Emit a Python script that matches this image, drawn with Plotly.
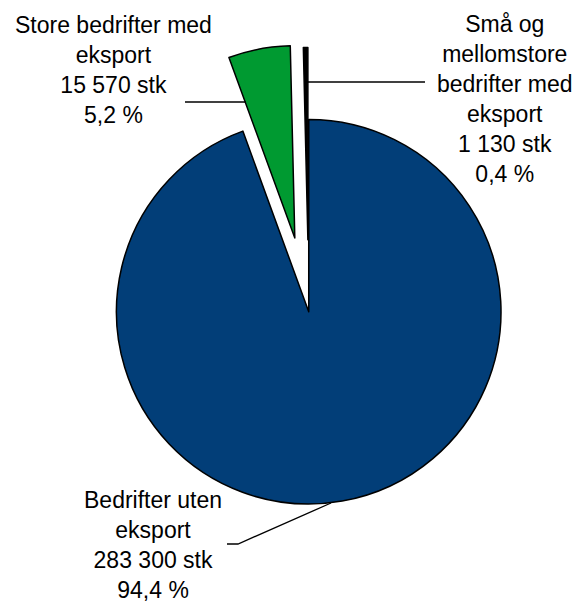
import plotly.graph_objects as go

# Norwegian enterprises by export status
labels = ["Bedrifter uten<br>eksport", "Store bedrifter med<br>eksport",
          "Små og<br>mellomstore<br>bedrifter med<br>eksport"]
counts = [283300, 15570, 1130]
colors = ["#023E78", "#009A31", "#000000"]
pulls = [0.0, 0.39, 0.375]

W, H = 576, 603
total = sum(counts)


def fmt_int(n):
    return f"{n:,}".replace(",", " ")


def fmt_pct(v):
    return f"{v:.1f}".replace(".", ",") + " %"


texts = [f"{lab}<br>{fmt_int(c)} stk<br>{fmt_pct(100 * c / total)}"
         for lab, c in zip(labels, counts)]

fig = go.Figure(go.Pie(
    values=counts,
    labels=[l.replace("<br>", " ") for l in labels],
    sort=False,
    direction="clockwise",
    rotation=0,
    pull=pulls,
    marker=dict(colors=colors, line=dict(color="#000000", width=1.5)),
    textinfo="none",
    hoverinfo="skip",
    domain=dict(x=[0.072, 1.0], y=[0.036, 0.93]),
))


def px(x, y):
    return x / W, 1 - y / H


# label block centres in pixel space
label_pos = [(153, 545), (113, 70), (505, 99)]
annotations = []
for t, (x, y) in zip(texts, label_pos):
    ax, ay = px(x, y)
    annotations.append(dict(
        text=t, x=ax, y=ay, xref="paper", yref="paper",
        xanchor="center", yanchor="middle", showarrow=False, align="center",
        font=dict(family="Liberation Sans, Arial, sans-serif", size=23, color="#000000"),
    ))

# leader lines
def path(points):
    parts = []
    for i, (x, y) in enumerate(points):
        fx, fy = px(x, y)
        parts.append(("M " if i == 0 else "L ") + f"{fx:.5f},{fy:.5f}")
    return " ".join(parts)

leaders = [
    [(227, 544), (238, 544), (331, 503)],
    [(185, 102), (246, 102)],
    [(305, 82), (425, 82)],
]
shapes = [dict(type="path", path=path(p), xref="paper", yref="paper",
               line=dict(color="#000000", width=1.3)) for p in leaders]

fig.update_layout(
    width=W, height=H,
    margin=dict(l=0, r=0, t=0, b=0),
    paper_bgcolor="white", plot_bgcolor="white",
    showlegend=False,
    annotations=annotations,
    shapes=shapes,
)

fig.write_html("out.html")
